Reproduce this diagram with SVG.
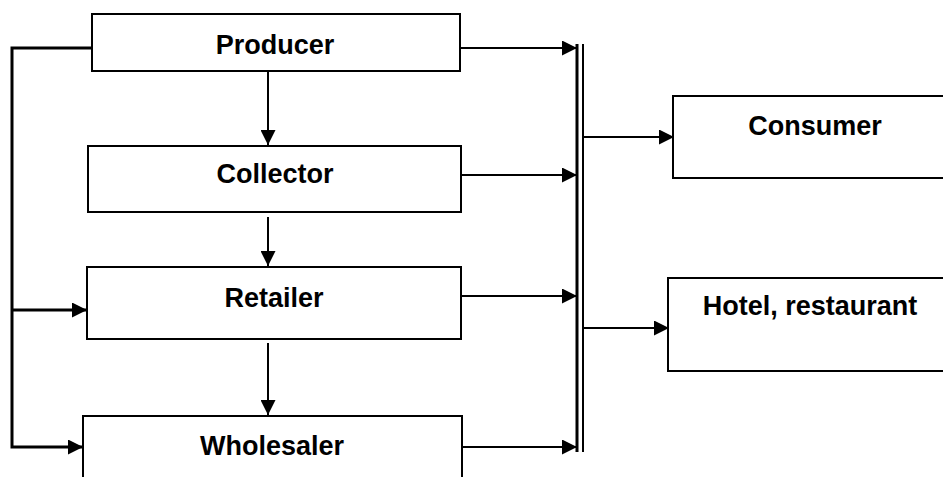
<svg xmlns="http://www.w3.org/2000/svg" width="943" height="477" viewBox="0 0 943 477">
<style>
.box{fill:#fff;stroke:#000;stroke-width:2}
.lbl{font-family:"Liberation Sans",Arial,sans-serif;font-weight:bold;font-size:27px;fill:#000;text-anchor:middle}
.ln{fill:none;stroke:#000;stroke-width:2}
.thick{fill:none;stroke:#000;stroke-width:3}
</style>
<defs>
<marker id="ah" markerUnits="userSpaceOnUse" markerWidth="15" markerHeight="15" refX="15" refY="7.5" orient="auto">
<path d="M0,0 L15,7.5 L0,15 z" fill="#000"/>
</marker>
</defs>
<rect width="943" height="477" fill="#fff"/>
<g id="producer"><rect class="box" x="92" y="14" width="368" height="57"/><text class="lbl" x="275" y="54">Producer</text></g>
<g id="collector"><rect class="box" x="88" y="146" width="373" height="66"/><text class="lbl" x="275" y="183">Collector</text></g>
<g id="retailer"><rect class="box" x="87" y="267" width="374" height="72"/><text class="lbl" x="274" y="307">Retailer</text></g>
<g id="wholesaler"><rect class="box" x="83" y="416" width="379" height="80"/><text class="lbl" x="272" y="455">Wholesaler</text></g>
<g id="consumer"><rect class="box" x="673" y="96" width="290" height="82"/><text class="lbl" x="815" y="135">Consumer</text></g>
<g id="hotel"><rect class="box" x="668" y="278" width="290" height="93"/><text class="lbl" x="810" y="315">Hotel, restaurant</text></g>
<g id="connectors">
<line class="thick" x1="577" y1="44" x2="577" y2="452"/>
<line class="ln" x1="583" y1="44" x2="583" y2="452"/>
<path class="thick" d="M92,48 H12 V447 H83" marker-end="url(#ah)"/>
<line class="thick" x1="12" y1="310" x2="87" y2="310" marker-end="url(#ah)"/>
<line class="ln" x1="268" y1="71" x2="268" y2="145" marker-end="url(#ah)"/>
<line class="ln" x1="268" y1="217" x2="268" y2="266" marker-end="url(#ah)"/>
<line class="ln" x1="268" y1="343" x2="268" y2="415" marker-end="url(#ah)"/>
<line class="ln" x1="460" y1="48" x2="577" y2="48" marker-end="url(#ah)"/>
<line class="ln" x1="461" y1="175" x2="577" y2="175" marker-end="url(#ah)"/>
<line class="ln" x1="461" y1="296" x2="577" y2="296" marker-end="url(#ah)"/>
<line class="ln" x1="462" y1="447" x2="577" y2="447" marker-end="url(#ah)"/>
<line class="ln" x1="583" y1="137" x2="674" y2="137" marker-end="url(#ah)"/>
<line class="ln" x1="583" y1="328" x2="669" y2="328" marker-end="url(#ah)"/>
</g>
</svg>
